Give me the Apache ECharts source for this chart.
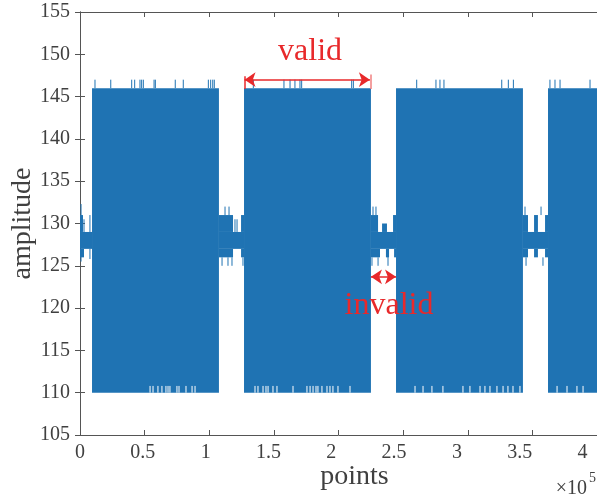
<!DOCTYPE html>
<html>
<head>
<meta charset="utf-8">
<title>amplitude vs points</title>
<script src="https://cdn.jsdelivr.net/npm/echarts@6/dist/echarts.min.js"></script>
<style>
  html, body { margin: 0; padding: 0; background: #ffffff; }
  #chart { width: 597px; height: 500px; }
</style>
</head>
<body>
<div id="chart"></div>
<script>
  // axis ticks
  let xTicks = [0, 50000, 100000, 150000, 200000, 250000, 300000, 350000, 400000];
  let yTicks = [105, 110, 115, 120, 125, 130, 135, 140, 145, 150, 155];

  // valid (high amplitude) segments, sample index start / end
  let validStart = [9300, 126900, 244500, 362100];
  let validEnd = [107500, 225100, 342700, 400000];
  let validLow = 110;
  let validHigh = 146;

  // samples in the valid segments that reach 147
  let peakX = [11600, 23800, 40000, 42300, 46400, 47700, 49000, 57300, 58300, 73700, 79900,
    99300, 101100, 102700, 103900, 134100, 157800, 162500, 166300, 170200, 171500, 210200,
    211500, 260500, 275400, 278500, 281600, 326300, 331400, 335300, 363600, 367500, 371400, 394600];

  // samples in the valid segments whose minimum stays above 110
  let floorGapX = [54200, 56500, 60300, 63400, 66500, 68100, 69600, 75000, 76600, 82000, 86700,
    89000, 135400, 137700, 141600, 143900, 145500, 149300, 152400, 164800, 175600, 178000,
    180300, 182600, 184100, 187200, 191100, 193400, 195700, 199600, 208900, 259200, 265400,
    272300, 280800, 296300, 301700, 309500, 313300, 317200, 322600, 327300, 331100, 335000,
    340400, 369100, 376800, 384500, 389200];

  // invalid (idle) sections: [start, end, low, high]
  let idleBands = [
    [0, 9300, 127, 129], [0, 2300, 129, 131], [0, 3100, 126, 127],
    [107500, 126900, 127, 129], [107500, 118400, 129, 131], [124600, 126900, 129, 131],
    [107500, 118400, 126, 127], [124600, 126900, 126, 127],
    [225100, 244500, 127, 129], [225100, 230600, 129, 131], [233700, 237500, 129, 130],
    [242200, 244500, 129, 131], [225100, 232100, 126, 127], [236700, 239100, 126, 127],
    [243000, 244500, 126, 127],
    [342700, 362100, 127, 129], [342700, 346600, 129, 131], [351300, 354300, 129, 131],
    [359800, 362100, 129, 131], [342700, 346600, 126, 127], [351300, 354300, 126, 127],
    [359800, 362100, 126, 127]
  ];

  // single samples sticking out of the idle band: [x, low, high]
  let idleSpikes = [
    [800, 129, 132.3], [800, 125.5, 127], [3100, 129, 130.5], [7700, 129, 131], [7700, 125.8, 127],
    [112200, 131, 132], [115300, 131, 132], [109900, 125, 126], [114500, 125, 126],
    [117600, 125, 126], [126100, 125, 126], [119900, 129, 130.5], [121500, 129, 130.5],
    [226700, 131, 132], [229000, 131, 132], [225900, 125, 126], [230600, 125, 126],
    [238300, 125, 127],
    [344300, 131, 132], [356700, 131, 132], [345100, 125, 126], [358200, 125, 126]
  ];

  let blue = '#1f73b3';
  let red = '#e8292b';
  let axisColor = '#555555';
  let textColor = '#404040';
  let serif = 'Liberation Serif, Times New Roman, serif';

  let bandData = [];
  for (let i = 0; i < validStart.length; i++) {
    bandData.push([validStart[i], validEnd[i], validLow, validHigh]);
  }
  bandData = bandData.concat(idleBands);

  let spikeData = idleSpikes.slice();
  for (let i = 0; i < peakX.length; i++) {
    spikeData.push([peakX[i], validHigh, validHigh + 1]);
  }
  let gapData = floorGapX.map(function (x) { return [x, validLow, validLow + 0.8]; });

  function bandItem(params, api) {
    let p0 = api.coord([api.value(0), api.value(3)]);
    let p1 = api.coord([api.value(1), api.value(2)]);
    return {
      type: 'rect',
      shape: { x: p0[0], y: p0[1], width: p1[0] - p0[0], height: p1[1] - p0[1] },
      style: { fill: blue }
    };
  }

  function lineItem(color) {
    return function (params, api) {
      let top = api.coord([api.value(0), api.value(2)]);
      let bottom = api.coord([api.value(0), api.value(1)]);
      return {
        type: 'line',
        shape: { x1: top[0], y1: top[1], x2: bottom[0], y2: bottom[1] },
        style: { stroke: color, lineWidth: 1 }
      };
    };
  }

  let tickStep = xTicks[1] - xTicks[0];
  let xMax = xTicks[xTicks.length - 1];
  let yStep = yTicks[1] - yTicks[0];

  let chart = echarts.init(document.getElementById('chart'));

  let options = {
    backgroundColor: '#ffffff',
    animation: false,
    grid: { left: 80, right: 0, top: 12, bottom: 65, containLabel: false, outerBoundsMode: 'none' },
    xAxis: [
      {
        type: 'value', position: 'bottom', min: xTicks[0], max: xMax, interval: tickStep,
        axisLine: { lineStyle: { color: axisColor } },
        axisTick: { inside: true, length: 5, lineStyle: { color: axisColor } },
        axisLabel: { show: false },
        splitLine: { show: false }
      },
      {
        type: 'value', position: 'top', min: xTicks[0], max: xMax, interval: tickStep,
        axisLine: { lineStyle: { color: axisColor } },
        axisTick: { inside: true, length: 5, lineStyle: { color: axisColor } },
        axisLabel: { show: false },
        splitLine: { show: false }
      },
      {
        // tick labels sit slightly left of the ticks in the original figure
        type: 'value', position: 'bottom', min: xTicks[0], max: 411500, interval: tickStep,
        axisLine: { show: false },
        axisTick: { show: false },
        splitLine: { show: false },
        axisLabel: {
          margin: 8,
          fontFamily: serif, fontSize: 20, color: textColor,
          formatter: function (v) {
            return xTicks.indexOf(v) >= 0 ? String(v / 100000) : '';
          }
        },
        name: 'points',
        nameLocation: 'middle',
        nameMoveOverlap: false,
        nameGap: 28,
        nameTextStyle: { fontFamily: serif, fontSize: 28, color: textColor, padding: [0, 0, 0, 32] }
      }
    ],
    yAxis: [
      {
        type: 'value', position: 'left', min: yTicks[0], max: yTicks[yTicks.length - 1], interval: yStep,
        axisLine: { show: true, lineStyle: { color: axisColor } },
        axisTick: { show: true, inside: true, length: 5, lineStyle: { color: axisColor } },
        axisLabel: { margin: 10, fontFamily: serif, fontSize: 20, color: textColor },
        splitLine: { show: false },
        name: 'amplitude',
        nameLocation: 'middle',
        nameMoveOverlap: false,
        nameGap: 43,
        nameTextStyle: { fontFamily: serif, fontSize: 28, color: textColor }
      },
      {
        type: 'value', position: 'right', min: yTicks[0], max: yTicks[yTicks.length - 1], interval: yStep,
        axisLine: { show: true, lineStyle: { color: axisColor } },
        axisTick: { show: true, inside: true, length: 5, lineStyle: { color: axisColor } },
        axisLabel: { show: false },
        splitLine: { show: false }
      }
    ],
    graphic: [
      { type: 'text', right: 10, top: 479, style: { text: '×10', font: '20px ' + serif, fill: textColor } },
      { type: 'text', right: 1, top: 471, style: { text: '5', font: '14px ' + serif, fill: textColor } }
    ],
    series: [
      {
        type: 'custom', name: 'bands', xAxisIndex: 0, yAxisIndex: 0, clip: true,
        renderItem: bandItem, data: bandData, encode: { x: [0, 1], y: [2, 3] }
      },
      {
        type: 'custom', name: 'floorGaps', xAxisIndex: 0, yAxisIndex: 0, clip: true, z: 3,
        renderItem: lineItem('#ffffff'), data: gapData, encode: { x: 0, y: [1, 2] }
      },
      {
        type: 'custom', name: 'spikes', xAxisIndex: 0, yAxisIndex: 0, clip: true,
        renderItem: lineItem(blue), data: spikeData, encode: { x: 0, y: [1, 2] },
        markLine: {
          silent: true,
          symbol: ['arrow', 'arrow'],
          symbolSize: 11,
          label: { show: false },
          lineStyle: { color: red, type: 'solid', width: 1.5 },
          data: [
            [{ coord: [127300, 147] }, { coord: [224300, 147] }],
            [{ coord: [225100, 123.7] }, { coord: [244500, 123.7] }],
            [{ coord: [127300, 145.9], symbol: 'none' }, { coord: [127300, 147.4], symbol: 'none' }],
            [{ coord: [224800, 145.9], symbol: 'none', lineStyle: { color: '#f08080' } },
              { coord: [224800, 147.6], symbol: 'none' }]
          ]
        },
        markPoint: {
          silent: true,
          symbol: 'rect',
          symbolSize: 0,
          label: {
            show: true, position: 'inside', formatter: '{b}',
            fontFamily: serif, fontSize: 32, color: red
          },
          data: [
            { name: 'valid', coord: [178000, 150.3] },
            { name: 'invalid', coord: [239100, 120.3] }
          ]
        }
      }
    ]
  };

  chart.setOption(options);
</script>
</body>
</html>
